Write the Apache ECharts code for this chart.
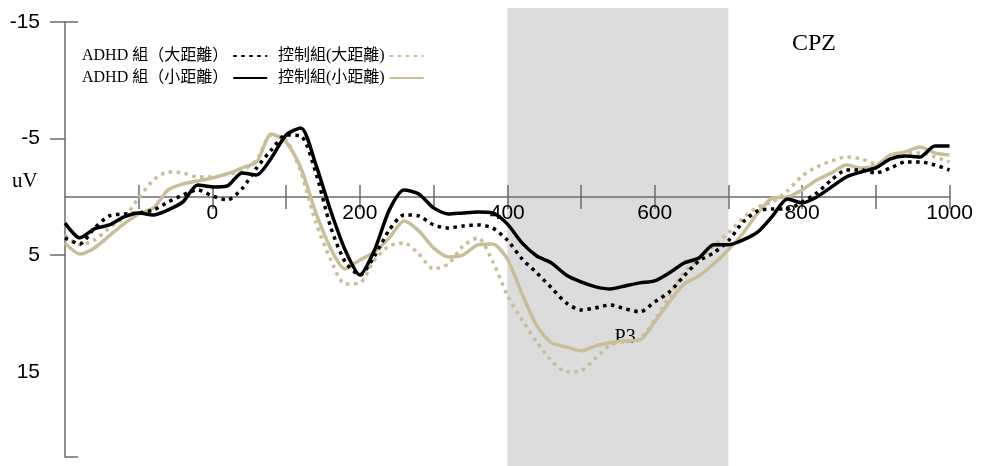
<!DOCTYPE html>
<html>
<head>
<meta charset="utf-8">
<script src="https://cdn.jsdelivr.net/npm/echarts@6/dist/echarts.min.js"></script>
<style>
html,body{margin:0;padding:0;background:#fff;}
#chart{width:981px;height:466px;}
</style>
</head>
<body>
<div id="chart"></div>
<script>
// time points (ms)
const times = [
  -200,-180,-160,-140,-120,-100,-80,-60,-40,-20,
  0,20,40,60,80,100,120,140,160,180,
  200,220,240,260,280,300,320,340,360,380,
  400,420,440,460,480,500,520,540,560,580,
  600,620,640,660,680,700,720,740,760,780,
  800,820,840,860,880,900,920,940,960,980,
  1000
];
// amplitudes (uV), negative up
const adhdLarge = [
  3.51,4.03,2.66,1.63,1.46,1.37,1.11,0.43,-0.17,-0.6,
  -0.09,0.26,-0.69,-2.49,-4.03,-5.31,-5.23,-2.14,2.49,5.57,
  6.69,5.06,2.83,1.54,1.63,2.4,2.66,2.49,2.4,2.66,
  3.69,5.31,6.51,7.8,9.09,9.69,9.51,9.26,9.6,9.86,
  9.0,8.14,6.77,5.49,4.8,3.77,2.14,1.2,1.03,1.03,
  0.43,-0.34,-1.46,-2.31,-2.31,-2.06,-2.49,-3.0,-3.0,-2.74,
  -2.31
];
const adhdSmall = [
  2.23,3.51,2.74,2.4,1.71,1.37,1.54,1.11,0.43,-1.03,
  -0.86,-0.94,-2.06,-1.89,-3.34,-5.31,-5.91,-2.83,1.11,4.54,
  6.69,4.54,1.11,-0.6,-0.26,0.94,1.46,1.37,1.29,1.37,
  2.31,3.94,5.06,5.66,6.69,7.29,7.71,7.89,7.63,7.37,
  7.2,6.51,5.66,5.23,4.11,4.11,3.69,3.0,1.63,0.17,
  0.51,0,-0.86,-1.71,-2.14,-2.49,-3.26,-3.51,-3.43,-4.37,
  -4.37
];
const ctrlLarge = [
  3.26,4.11,3.69,2.66,1.8,0.09,-1.46,-2.14,-2.06,-1.71,
  -1.71,-1.97,-2.23,-3.17,-5.31,-4.89,-2.14,2.14,5.31,7.46,
  7.37,5.4,4.2,3.94,4.89,6.17,5.74,4.2,3.51,5.49,
  8.4,10.54,12.43,14.06,15.0,14.91,13.8,12.69,12.43,12.17,
  10.54,8.49,6.43,5.31,4.2,3.09,1.8,0.86,0.43,-0.51,
  -1.8,-2.57,-3.09,-3.43,-3.26,-2.83,-3.34,-3.77,-3.77,-3.43,
  -3.0
];
const ctrlSmall = [
  3.94,4.89,4.37,3.34,2.31,1.46,0.94,-0.6,-1.11,-1.37,
  -1.63,-1.97,-2.49,-3.0,-5.4,-4.71,-2.49,1.29,4.37,6.17,
  5.4,4.71,3.51,2.06,2.91,4.37,5.14,4.97,4.11,4.03,
  5.31,8.31,11.06,12.51,12.86,13.2,12.77,12.51,12.34,12.26,
  10.71,9.0,7.46,6.77,5.74,4.54,3.09,1.37,0.09,0,
  -0.6,-1.46,-2.06,-2.74,-2.49,-2.66,-3.6,-3.86,-4.29,-3.77,
  -3.6
];
const xTickLabels = [0,200,400,600,800,1000];
const xTickMarks = [-100,0,100,200,300,400,500,600,700,800,900,1000];
const yTickLabels = [-15,-5,5,15];
const yTickMarks = [-15,-5,5];
const xRange = [-200,1000];
const yRange = [-15,22.3];
const shadeWindow = [400,700];
const p3Pos = [560,12.1];

const names = {
  adhdLarge: 'ADHD 組（大距離）',
  adhdSmall: 'ADHD 組（小距離）',
  ctrlLarge: '控制組(大距離)',
  ctrlSmall: '控制組(小距離)'
};

const W = 981, H = 466;
const TAN = '#c8bf99';
const AXIS = '#6b6b6b';
const SANS = '"Liberation Sans", Arial, sans-serif';
const SERIF = '"Liberation Serif", "Times New Roman", "Noto Sans CJK TC", serif';
const DOT = [3.5,4.5];

function pairs(vals){ return times.map((t,i)=>[t, vals[i]]); }

function mkSeries(name, vals, color, dotted){
  return {
    name: name, type: 'line', data: pairs(vals),
    xAxisIndex: 0, yAxisIndex: 0,
    symbol: 'none', smooth: 0.25, silent: true,
    lineStyle: { color: color, width: 3.5, type: dotted ? DOT : 'solid', cap: 'butt' },
    itemStyle: { color: color }
  };
}

function mkLegend(name, left, top){
  return {
    data: [name], left: left, top: top, padding: 0, itemGap: 0,
    align: 'right', itemWidth: 34, itemHeight: 14, selectedMode: false,
    itemStyle: { opacity: 0 },
    textStyle: { fontFamily: SERIF, fontSize: 16, color: '#000' }
  };
}

const gridBox = { left: 65, right: 31.5, top: 22, bottom: 9, containLabel: false, outerBoundsMode: 'none' };

const option = {
  animation: false,
  backgroundColor: '#fff',
  grid: [
    Object.assign({}, gridBox),               // data grid
    Object.assign({}, gridBox, { bottom: 269 }) // its bottom edge is moved onto the zero line below
  ],
  title: [
    { text: 'CPZ', left: 792, top: 32, padding: 0,
      textStyle: { fontFamily: SERIF, fontSize: 24, fontWeight: 'normal', color: '#000' } },
    { text: 'uV', left: 12, top: 171, padding: 0,
      textStyle: { fontFamily: SERIF, fontSize: 21, fontWeight: 'normal', color: '#000' } }
  ],
  legend: [
    mkLegend(names.adhdLarge, 82, 48),
    mkLegend(names.ctrlLarge, 278, 48),
    mkLegend(names.adhdSmall, 82, 70),
    mkLegend(names.ctrlSmall, 278, 70)
  ],
  xAxis: [
    { gridIndex: 0, type: 'value', min: xRange[0], max: xRange[1], show: false },
    {
      gridIndex: 1, type: 'value', min: xRange[0], max: xRange[1], interval: 100, position: 'bottom',
      axisLine: { show: true, onZero: false, lineStyle: { color: AXIS, width: 1.5 } },
      axisTick: { show: true, inside: false, length: 12, customValues: xTickMarks, lineStyle: { color: AXIS, width: 1.5 } },
      axisLabel: { show: true, customValues: xTickLabels, margin: 6, fontFamily: SANS, fontSize: 21, color: '#000',
                   formatter: function (v) { return String(v); } },
      splitLine: { show: false }
    },
    {
      gridIndex: 1, type: 'value', min: xRange[0], max: xRange[1], interval: 100, position: 'bottom',
      axisLine: { show: false, onZero: false },
      axisTick: { show: true, inside: true, length: 12, customValues: xTickMarks, lineStyle: { color: AXIS, width: 1.5 } },
      axisLabel: { show: false },
      splitLine: { show: false }
    }
  ],
  yAxis: [
    {
      gridIndex: 0, type: 'value', inverse: true, min: yRange[0], max: yRange[1], position: 'left',
      axisLine: { show: true, onZero: false, lineStyle: { color: AXIS, width: 1.5 } },
      axisTick: { show: true, inside: false, length: 15, customValues: yTickMarks, lineStyle: { color: AXIS, width: 1.5 } },
      axisLabel: { show: true, customValues: yTickLabels, margin: 25, fontFamily: SANS, fontSize: 21, color: '#000' },
      splitLine: { show: false }
    },
    { gridIndex: 1, type: 'value', min: 0, max: 1, show: false }
  ],
  series: [
    mkSeries(names.ctrlLarge, ctrlLarge, TAN, true),
    mkSeries(names.ctrlSmall, ctrlSmall, TAN, false),
    mkSeries(names.adhdLarge, adhdLarge, '#000', true),
    mkSeries(names.adhdSmall, adhdSmall, '#000', false)
  ]
};

const chart = echarts.init(document.getElementById('chart'), null, { renderer: 'canvas' });
chart.setOption(option);

const zeroY = chart.convertToPixel({ yAxisIndex: 0 }, 0);
const sx0 = chart.convertToPixel({ xAxisIndex: 0 }, shadeWindow[0]);
const sx1 = chart.convertToPixel({ xAxisIndex: 0 }, shadeWindow[1]);
const xLeft = chart.convertToPixel({ xAxisIndex: 0 }, xRange[0]);
const yTop = chart.convertToPixel({ yAxisIndex: 0 }, yRange[0]);
const yBot = chart.convertToPixel({ yAxisIndex: 0 }, yRange[1]);
const p3 = chart.convertToPixel({ xAxisIndex: 0, yAxisIndex: 0 }, p3Pos);

chart.setOption({
  grid: [ {}, { bottom: H - zeroY } ],
  graphic: [
    { type: 'rect', z: -5, silent: true,
      shape: { x: sx0, y: 8, width: sx1 - sx0, height: H - 8 },
      style: { fill: '#dcdcdc' } },
    { type: 'line', z: 1, silent: true,
      shape: { x1: xLeft, y1: yTop, x2: xLeft + 13, y2: yTop },
      style: { stroke: AXIS, lineWidth: 1.5 } },
    { type: 'line', z: 1, silent: true,
      shape: { x1: xLeft, y1: yBot, x2: xLeft + 13, y2: yBot },
      style: { stroke: AXIS, lineWidth: 1.5 } },
    { type: 'text', z: 1, silent: true, x: p3[0], y: p3[1],
      style: { text: 'P3', fontFamily: SERIF, fontSize: 20, fill: '#000', align: 'center', verticalAlign: 'middle' } }
  ]
});
</script>
</body>
</html>
